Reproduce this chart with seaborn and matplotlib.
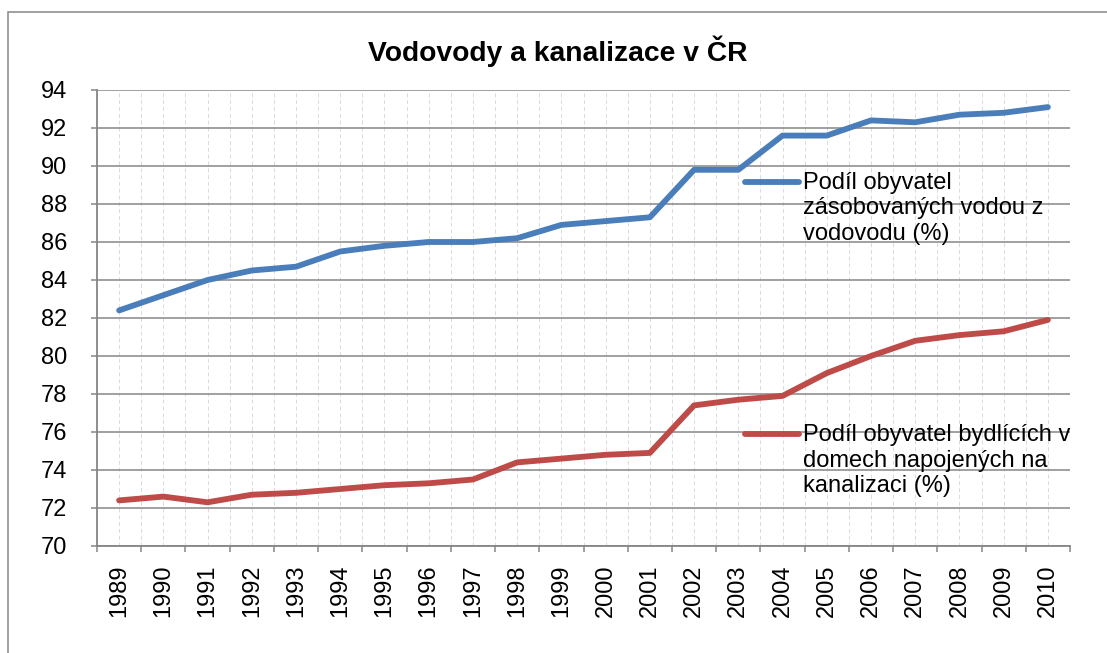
import matplotlib
matplotlib.use("Agg")
import matplotlib.pyplot as plt
import matplotlib.patches as mpatches
from matplotlib.legend_handler import HandlerLine2D
import seaborn as sns
import pandas as pd
import numpy as np

# data
years = [str(y) for y in range(1989, 2011)]
water = [82.4, 83.2, 84.0, 84.5, 84.7, 85.5, 85.8, 86.0, 86.0, 86.2, 86.9,
         87.1, 87.3, 89.8, 89.8, 91.6, 91.6, 92.4, 92.3, 92.7, 92.8, 93.1]
sewer = [72.4, 72.6, 72.3, 72.7, 72.8, 73.0, 73.2, 73.3, 73.5, 74.4, 74.6,
         74.8, 74.9, 77.4, 77.7, 77.9, 79.1, 80.0, 80.8, 81.1, 81.3, 81.9]
labels = ["Podíl obyvatel\nzásobovaných vodou z\nvodovodu (%)",
          "Podíl obyvatel bydlících v\ndomech napojených na\nkanalizaci (%)"]
colors = ["#4a7ebb", "#be4b48"]

sns.set_style("white")
plt.rcParams['font.family'] = ['Liberation Sans', 'DejaVu Sans']
plt.rcParams['text.color'] = 'black'

GRID = "#868686"


class TopLine(HandlerLine2D):
    """Put the legend line next to the first text line, Excel style."""
    def __init__(self, shift, **kw):
        super().__init__(**kw)
        self.shift = shift

    def create_artists(self, legend, orig_handle, xdescent, ydescent,
                       width, height, fontsize, trans):
        arts = super().create_artists(legend, orig_handle, xdescent, ydescent,
                                      width, height, fontsize, trans)
        for a in arts:
            a.set_ydata(np.asarray(a.get_ydata(), dtype=float) + self.shift * fontsize)
        return arts


fig = plt.figure(figsize=(11.07, 6.53), dpi=100)
ax = fig.add_axes([97 / 1107, 1 - 546 / 653, (1070 - 97) / 1107, (546 - 90) / 653])

df = pd.DataFrame({"x": np.arange(len(years)), "water": water, "sewer": sewer})
for col, lab, c in zip(["water", "sewer"], labels, colors):
    sns.lineplot(data=df, x="x", y=col, ax=ax, color=c, lw=4.2,
                 label=lab, solid_capstyle="round", solid_joinstyle="round")

ax.set_xlim(-0.5, len(years) - 0.5)
ax.set_ylim(70, 94)
ax.set_yticks(np.arange(70, 95, 2))
ax.set_xlabel("")
ax.set_ylabel("")

# category boundaries get tick marks, centres get the labels
ax.set_xticks(np.arange(-0.5, len(years), 1.0))
ax.set_xticklabels([])
ax.set_xticks(np.arange(len(years)), labels=years, minor=True)
ax.tick_params(axis="x", which="major", direction="out", length=4.5, width=1.1,
               color=GRID, bottom=True)
ax.tick_params(axis="x", which="minor", length=0, pad=13, labelsize=17,
               labelrotation=90, labelcolor="black")
ax.tick_params(axis="y", direction="out", length=4.5, width=1.1, color=GRID,
               pad=17, labelsize=17, labelcolor="black", left=True)

ax.grid(True, axis="y", color=GRID, lw=1.1, ls="-")
ax.grid(True, axis="x", which="both", color="#dadada", lw=0.7, ls=(0, (4, 3)))
ax.set_axisbelow(True)

for s in ["top", "right"]:
    ax.spines[s].set_visible(False)
for s in ["left", "bottom"]:
    ax.spines[s].set_color(GRID)
    ax.spines[s].set_linewidth(1.3)

handles, labs = ax.get_legend_handles_labels()
leg = ax.legend(handles, labs, loc="upper left", bbox_to_anchor=(0.666, 0.82),
                frameon=False, fontsize=17, handlelength=2.3, handletextpad=0.15,
                labelspacing=7.6, borderpad=0, borderaxespad=0,
                handler_map={h: TopLine(1.15) for h in handles})
for t in leg.get_texts():
    t.set_color("black")

fig.text(0.504, 1 - 51 / 653, "Vodovody a kanalizace v ČR", ha="center",
         va="center", fontsize=20.3, fontweight="bold", color="black")

# chart area frame (cut off on the right and bottom like the original)
fig.patches.append(mpatches.Rectangle((7.5 / 1107, -0.2), 1.5, 1.2 - 11.5 / 653,
                                      transform=fig.transFigure, fill=False,
                                      edgecolor=GRID, lw=1.1))

fig.savefig("out.png", dpi=100)
